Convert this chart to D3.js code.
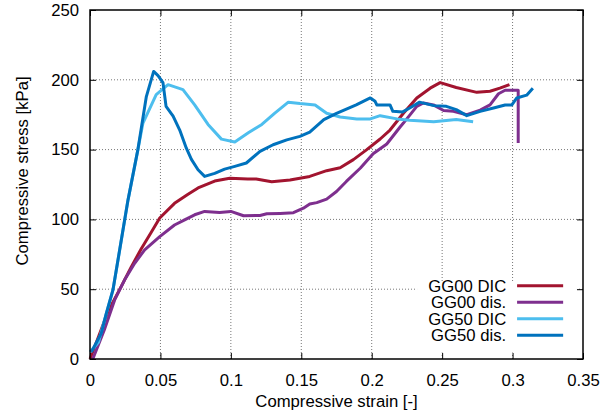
<!DOCTYPE html>
<html>
<head>
<meta charset="utf-8">
<script src="https://cdn.jsdelivr.net/npm/d3@7"></script>
<style>
  html, body { margin: 0; padding: 0; background: #fff; }
  svg { display: block; font-family: "Liberation Sans", Arial, sans-serif; }
</style>
</head>
<body>
<div id="chart"></div>
<script>
// [strain, stress kPa]
const gg00Dic = [
  [0, 0], [0.0057, 15], [0.0128, 34], [0.0222, 52], [0.0293, 66], [0.0364, 79],
  [0.0436, 91], [0.0495, 101], [0.060, 111.5], [0.0696, 118], [0.0767, 122.5],
  [0.0885, 127.5], [0.0992, 129.5], [0.112, 129], [0.118, 129], [0.129, 127],
  [0.142, 128.2], [0.156, 130.8], [0.168, 134.9], [0.1776, 137], [0.187, 142.8],
  [0.1965, 150], [0.206, 157.6], [0.213, 164], [0.2225, 176], [0.232, 187],
  [0.2415, 194], [0.2486, 198], [0.260, 194.5], [0.2746, 191], [0.284, 191.8],
  [0.291, 194], [0.2978, 196.6]
];
const gg00Dis = [
  [0.002, 0], [0.0102, 21], [0.0175, 42.3], [0.0246, 56.7], [0.0317, 68.6],
  [0.0388, 78.2], [0.0495, 87.7], [0.060, 96], [0.0672, 99.7], [0.0743, 103.3],
  [0.0814, 105.7], [0.092, 105], [0.100, 105.7], [0.109, 102.6], [0.1207, 102.8],
  [0.1255, 104], [0.135, 104.3], [0.1444, 104.8], [0.1515, 108], [0.156, 111],
  [0.161, 112], [0.168, 114.5], [0.175, 120], [0.182, 127.2], [0.192, 136.8],
  [0.201, 147], [0.2107, 154], [0.220, 166], [0.2225, 169], [0.232, 181],
  [0.2367, 183.4], [0.2438, 182], [0.251, 178], [0.258, 177.4], [0.2675, 175],
  [0.277, 178.3], [0.284, 182], [0.290, 190], [0.2947, 192.5], [0.2995, 192.5],
  [0.304, 192.5], [0.304, 154.7]
];
const gg50Dic = [
  [0, 5], [0.006, 12], [0.0114, 32], [0.0163, 49.5], [0.0222, 85], [0.027, 114],
  [0.034, 150], [0.0376, 169], [0.047, 189.4], [0.0554, 196.5], [0.066, 193],
  [0.0743, 182], [0.0838, 168], [0.0933, 157.5], [0.1028, 155.5], [0.1124, 162],
  [0.122, 168], [0.131, 176], [0.1408, 184], [0.149, 183], [0.1598, 182],
  [0.168, 176], [0.1776, 173.4], [0.1894, 172], [0.199, 172], [0.206, 174.3],
  [0.218, 172], [0.227, 171], [0.244, 170], [0.260, 171.5], [0.272, 170]
];
const gg50Dis = [
  [0.001, 5], [0.008, 18.4], [0.0114, 32], [0.0163, 49.5], [0.0222, 85], [0.027, 114],
  [0.034, 150], [0.040, 188], [0.0452, 206], [0.0483, 203], [0.0518, 198],
  [0.054, 181], [0.059, 174], [0.0637, 164], [0.0684, 151], [0.072, 143],
  [0.0767, 135.6], [0.0814, 130.8], [0.0885, 133], [0.0956, 136], [0.1028, 138],
  [0.111, 140.4], [0.1207, 148.7], [0.130, 153.5], [0.1397, 157], [0.149, 159.5],
  [0.156, 162.5], [0.166, 171.5], [0.175, 176], [0.189, 182], [0.199, 187],
  [0.2024, 184.6], [0.2036, 182], [0.213, 182], [0.215, 177.4], [0.222, 177],
  [0.227, 179.8], [0.234, 184], [0.244, 181.5], [0.253, 181], [0.260, 178.6],
  [0.2675, 174.3], [0.277, 177.4], [0.2865, 179.8], [0.2947, 182], [0.2995, 182],
  [0.303, 187], [0.310, 189], [0.3144, 194]
];

const seriesNames = ['GG00 DIC', 'GG00 dis.', 'GG50 DIC', 'GG50 dis.'];
const seriesData = [gg00Dic, gg00Dis, gg50Dic, gg50Dis];
const seriesColors = ['#a2142f', '#7e2f8e', '#4dbeee', '#0072bd'];
const xTicks = [0, 0.05, 0.1, 0.15, 0.2, 0.25, 0.3, 0.35];
const yTicks = [0, 50, 100, 150, 200, 250];

const width = 616, height = 417;
const margin = { top: 10, right: 33, bottom: 58, left: 90 };
const plotW = width - margin.left - margin.right;
const plotH = height - margin.top - margin.bottom;
const fontSize = 16.7;

const svg = d3.select('#chart').append('svg')
  .attr('width', width)
  .attr('height', height);

const x = d3.scaleLinear().domain([0, 0.35]).range([0, plotW]);
const y = d3.scaleLinear().domain([0, 250]).range([plotH, 0]);

const g = svg.append('g').attr('transform', `translate(${margin.left},${margin.top})`);

// grid
g.append('g')
  .selectAll('line')
  .data(xTicks.slice(1, -1))
  .join('line')
  .attr('x1', d => x(d)).attr('x2', d => x(d))
  .attr('y1', 0).attr('y2', plotH)
  .attr('stroke', '#777').attr('stroke-width', 1).attr('stroke-dasharray', '1,2');
g.append('g')
  .selectAll('line')
  .data(yTicks.slice(1, -1))
  .join('line')
  .attr('x1', 0).attr('x2', plotW)
  .attr('y1', d => y(d)).attr('y2', d => y(d))
  .attr('stroke', '#777').attr('stroke-width', 1).attr('stroke-dasharray', '1,2');

// axes with inward ticks, mirrored
const fmt = d => d === 0 ? '0' : String(d);
g.append('g').attr('transform', `translate(0,${plotH})`)
  .call(d3.axisBottom(x).tickValues(xTicks).tickSize(-6).tickPadding(15).tickFormat(fmt));
g.append('g')
  .call(d3.axisLeft(y).tickValues(yTicks).tickSize(-6).tickPadding(11).tickFormat(fmt));
g.append('g')
  .call(d3.axisTop(x).tickValues(xTicks).tickSize(-6).tickFormat(''));
g.append('g').attr('transform', `translate(${plotW},0)`)
  .call(d3.axisRight(y).tickValues(yTicks).tickSize(-6).tickFormat(''));

g.selectAll('.domain').remove();
g.selectAll('.tick line').attr('stroke', '#000').attr('stroke-width', 1);
g.selectAll('.tick text').attr('font-size', fontSize).attr('fill', '#000')
  .attr('font-family', '"Liberation Sans", Arial, sans-serif');

// curves
const line = d3.line().x(d => x(d[0])).y(d => y(d[1]));
g.append('g')
  .selectAll('path')
  .data(seriesData)
  .join('path')
  .attr('d', line)
  .attr('fill', 'none')
  .attr('stroke', (d, i) => seriesColors[i])
  .attr('stroke-width', 3)
  .attr('stroke-linejoin', 'round');

// legend (opaque box)
const legend = g.append('g');
legend.append('rect')
  .attr('x', x(0.2322)).attr('y', y(54.5))
  .attr('width', x(0.1135)).attr('height', y(0) - y(52) - 3)
  .attr('fill', '#fff');
const rowH = 16.5;
const rows = legend.selectAll('g.row')
  .data(seriesNames)
  .join('g')
  .attr('class', 'row')
  .attr('transform', (d, i) => `translate(0,${285.7 - margin.top + i * rowH})`);
rows.append('text')
  .attr('x', x(0.2955))
  .attr('y', 0)
  .attr('dy', '0.35em')
  .attr('text-anchor', 'end')
  .attr('font-size', fontSize)
  .text(d => d);
rows.append('line')
  .attr('x1', x(0.3032)).attr('x2', x(0.3359))
  .attr('y1', 0).attr('y2', 0)
  .attr('stroke', (d, i) => seriesColors[i])
  .attr('stroke-width', 3);

// border
g.append('rect')
  .attr('width', plotW).attr('height', plotH)
  .attr('fill', 'none').attr('stroke', '#000').attr('stroke-width', 1.5);

// axis titles
svg.append('text')
  .attr('x', margin.left + plotW / 2)
  .attr('y', 406.5)
  .attr('text-anchor', 'middle')
  .attr('font-size', fontSize)
  .text('Compressive strain [-]');
svg.append('text')
  .attr('transform', `translate(28,171) rotate(-90)`)
  .attr('text-anchor', 'middle')
  .attr('font-size', fontSize)
  .text('Compressive stress [kPa]');
</script>
</body>
</html>
